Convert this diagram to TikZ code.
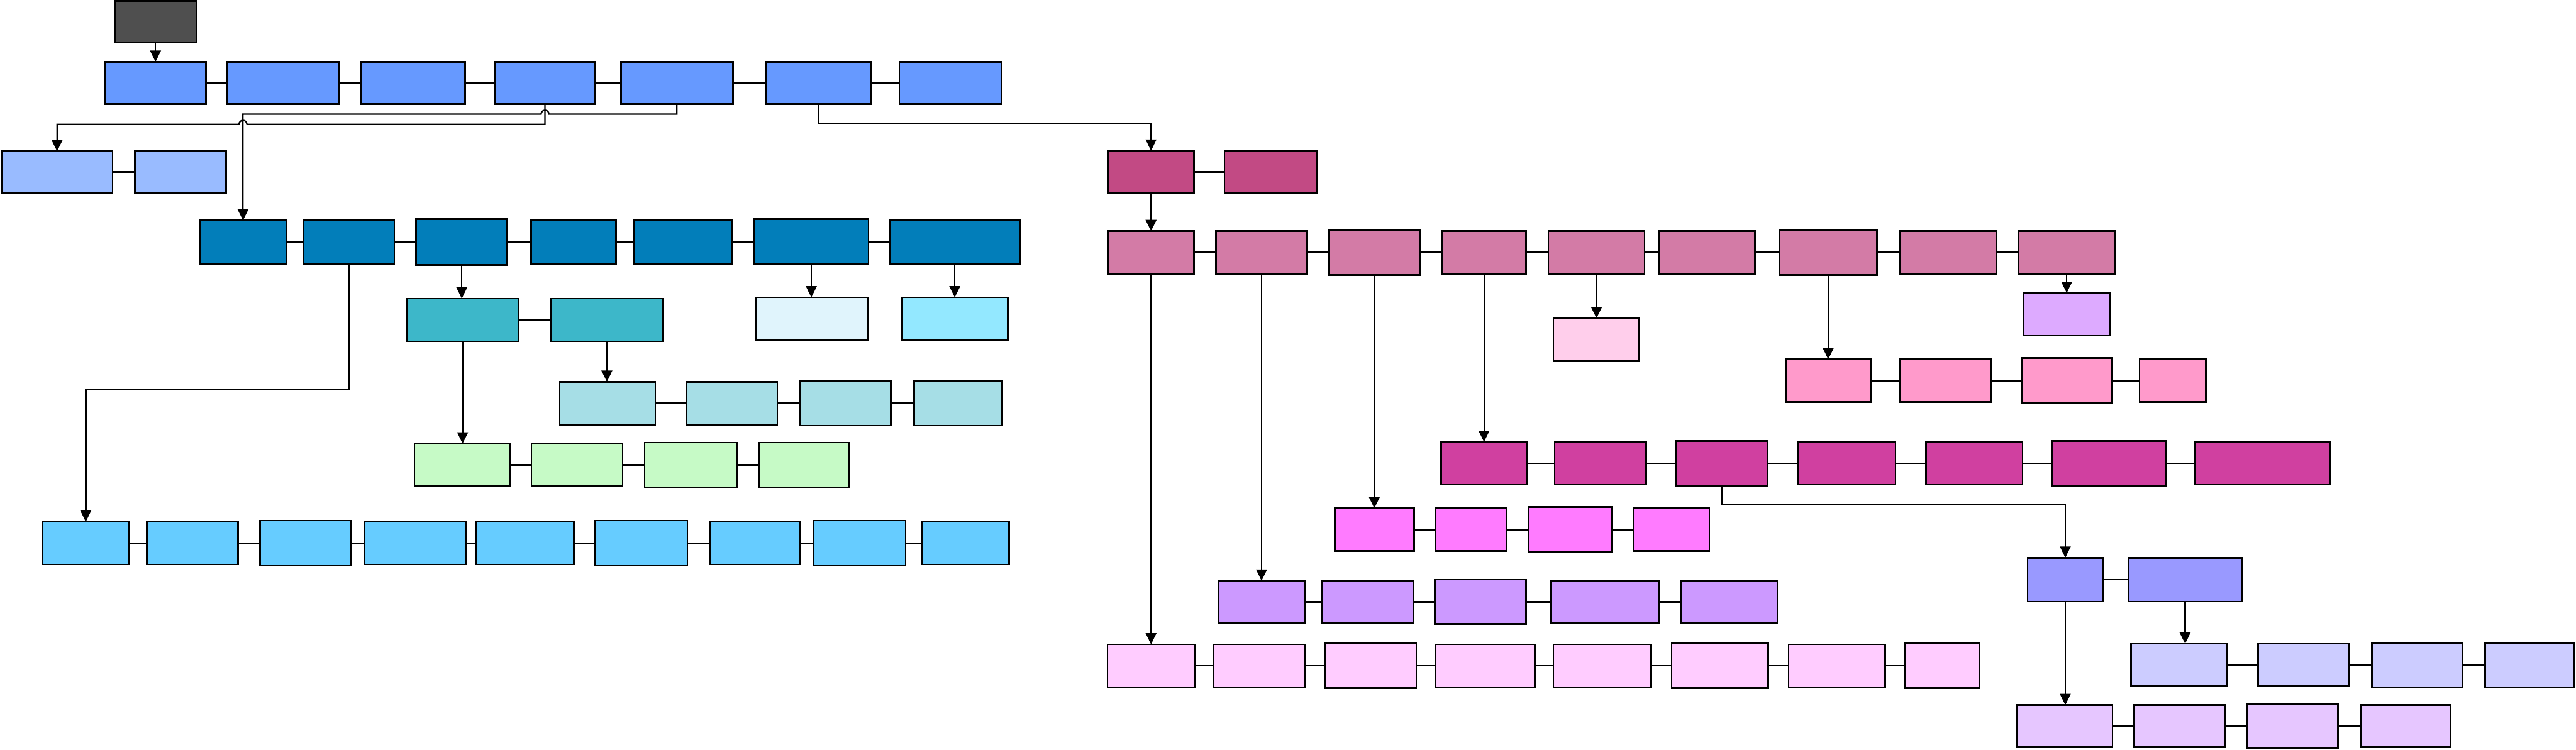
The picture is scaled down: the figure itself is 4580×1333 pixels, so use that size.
\documentclass[tikz,border=0pt]{standalone}
\usetikzlibrary{arrows.meta,calc}
\definecolor{cDark}{HTML}{4F4F4F}
\definecolor{cRowA}{HTML}{6699FF}
\definecolor{cRowB}{HTML}{99BBFF}
\definecolor{cRowC}{HTML}{027EBA}
\definecolor{cTeal}{HTML}{3DB7C9}
\definecolor{cPale}{HTML}{E0F4FC}
\definecolor{cCyan}{HTML}{93E8FF}
\definecolor{cLTeal}{HTML}{A6DEE6}
\definecolor{cGreen}{HTML}{C6FAC6}
\definecolor{cSky}{HTML}{66CCFF}
\definecolor{cDPink}{HTML}{C24A84}
\definecolor{cPink}{HTML}{D37BA6}
\definecolor{cLPink}{HTML}{FFCEEB}
\definecolor{cLilac}{HTML}{DDAAFF}
\definecolor{cRose}{HTML}{FF9ACB}
\definecolor{cMag}{HTML}{D040A0}
\definecolor{cFuch}{HTML}{FF7BFF}
\definecolor{cViol}{HTML}{CC99FF}
\definecolor{cBlush}{HTML}{FFCCFF}
\definecolor{cBV}{HTML}{9999FF}
\definecolor{cPeri}{HTML}{CCCCFF}
\definecolor{cLav}{HTML}{E6C6FF}
\tikzset{
  box/.style={draw=black, line width=0.03cm, inner sep=0pt, outer sep=0pt},
  link/.style={draw=black, line width=0.03cm},
  arr/.style={draw=black, line width=0.025cm, -{Triangle[length=0.2cm,width=0.19cm]}}
}
\newcommand\mybox[6]{\node[box, fill=#6, minimum width={(#3-#2)*0.01cm}, minimum height={(#5-#4)*0.01cm}] (#1) at ({(#2+#3)/2},{(#4+#5)/2}) {};}
\begin{document}
\begin{tikzpicture}[x=0.01cm, y=-0.01cm]
\useasboundingbox (0,0) rectangle (4580,1333);
% top
\mybox{d0}{204}{349}{2}{76}{cDark}
% row 1
\mybox{a1}{187}{366}{110}{185}{cRowA}
\mybox{a2}{404}{602}{110}{185}{cRowA}
\mybox{a3}{641}{827}{110}{185}{cRowA}
\mybox{a4}{880}{1058}{110}{185}{cRowA}
\mybox{a5}{1104}{1303}{110}{185}{cRowA}
\mybox{a6}{1362}{1548}{110}{185}{cRowA}
\mybox{a7}{1599}{1781}{110}{185}{cRowA}
% light blue
\mybox{b1}{3}{200}{269}{343}{cRowB}
\mybox{b2}{240}{402}{269}{343}{cRowB}
% dark blue
\mybox{c1}{355}{509}{392}{469}{cRowC}
\mybox{c2}{539}{701}{392}{469}{cRowC}
\mybox{c3}{740}{902}{390}{471}{cRowC}
\mybox{c4}{944}{1095}{392}{469}{cRowC}
\mybox{c5}{1128}{1302}{392}{469}{cRowC}
\mybox{c6}{1341}{1544}{390}{470}{cRowC}
\mybox{c7}{1582}{1813}{392}{469}{cRowC}
% teal
\mybox{t1}{723}{922}{531}{607}{cTeal}
\mybox{t2}{979}{1179}{531}{607}{cTeal}
\mybox{l1}{1344}{1543}{529}{605}{cPale}
\mybox{l2}{1604}{1792}{529}{605}{cCyan}
% light teal
\mybox{lt1}{995}{1165}{679}{755}{cLTeal}
\mybox{lt2}{1220}{1382}{679}{755}{cLTeal}
\mybox{lt3}{1422}{1584}{677}{757}{cLTeal}
\mybox{lt4}{1625}{1782}{677}{757}{cLTeal}
% green
\mybox{g1}{737}{907}{789}{865}{cGreen}
\mybox{g2}{945}{1107}{789}{865}{cGreen}
\mybox{g3}{1146}{1310}{787}{867}{cGreen}
\mybox{g4}{1349}{1509}{787}{867}{cGreen}
% sky
\mybox{s1}{76}{229}{928}{1004}{cSky}
\mybox{s2}{261}{423}{928}{1004}{cSky}
\mybox{s3}{462}{624}{926}{1006}{cSky}
\mybox{s4}{648}{828}{928}{1004}{cSky}
\mybox{s5}{846}{1020}{928}{1004}{cSky}
\mybox{s6}{1058}{1222}{926}{1006}{cSky}
\mybox{s7}{1263}{1422}{928}{1004}{cSky}
\mybox{s8}{1446}{1610}{926}{1006}{cSky}
\mybox{s9}{1639}{1794}{928}{1004}{cSky}
% dark pink
\mybox{dp1}{1970}{2123}{268}{343}{cDPink}
\mybox{dp2}{2177}{2341}{268}{343}{cDPink}
% pink row
\mybox{p1}{1970}{2123}{411}{487}{cPink}
\mybox{p2}{2162}{2324}{411}{487}{cPink}
\mybox{p3}{2363}{2524}{409}{489}{cPink}
\mybox{p4}{2564}{2713}{411}{487}{cPink}
\mybox{p5}{2753}{2924}{411}{487}{cPink}
\mybox{p6}{2949}{3120}{411}{487}{cPink}
\mybox{p7}{3164}{3337}{409}{489}{cPink}
\mybox{p8}{3378}{3549}{411}{487}{cPink}
\mybox{p9}{3588}{3761}{411}{487}{cPink}
\mybox{lp}{2762}{2914}{566}{642}{cLPink}
\mybox{li}{3597}{3751}{521}{597}{cLilac}
% rose
\mybox{pk1}{3175}{3327}{639}{715}{cRose}
\mybox{pk2}{3378}{3540}{639}{715}{cRose}
\mybox{pk3}{3594}{3755}{637}{717}{cRose}
\mybox{pk4}{3804}{3922}{639}{715}{cRose}
% magenta
\mybox{mg1}{2562}{2714}{786}{862}{cMag}
\mybox{mg2}{2764}{2927}{786}{862}{cMag}
\mybox{mg3}{2980}{3142}{784}{864}{cMag}
\mybox{mg4}{3196}{3370}{786}{862}{cMag}
\mybox{mg5}{3424}{3596}{786}{862}{cMag}
\mybox{mg6}{3649}{3850}{784}{864}{cMag}
\mybox{mg7}{3902}{4142}{786}{862}{cMag}
% fuchsia
\mybox{m1}{2373}{2514}{904}{980}{cFuch}
\mybox{m2}{2552}{2679}{904}{980}{cFuch}
\mybox{m3}{2718}{2865}{902}{982}{cFuch}
\mybox{m4}{2904}{3039}{904}{980}{cFuch}
% violet
\mybox{v1}{2166}{2320}{1033}{1108}{cViol}
\mybox{v2}{2350}{2513}{1033}{1108}{cViol}
\mybox{v3}{2551}{2713}{1031}{1110}{cViol}
\mybox{v4}{2757}{2950}{1033}{1108}{cViol}
\mybox{v5}{2988}{3160}{1033}{1108}{cViol}
% blush
\mybox{q1}{1969}{2124}{1146}{1222}{cBlush}
\mybox{q2}{2157}{2321}{1146}{1222}{cBlush}
\mybox{q3}{2356}{2518}{1144}{1224}{cBlush}
\mybox{q4}{2552}{2729}{1146}{1222}{cBlush}
\mybox{q5}{2762}{2936}{1146}{1222}{cBlush}
\mybox{q6}{2972}{3144}{1144}{1224}{cBlush}
\mybox{q7}{3180}{3352}{1146}{1222}{cBlush}
\mybox{q8}{3387}{3519}{1144}{1224}{cBlush}
% blue violet
\mybox{bv1}{3605}{3739}{992}{1070}{cBV}
\mybox{bv2}{3784}{3986}{992}{1070}{cBV}
% peri
\mybox{cc1}{3789}{3959}{1145}{1220}{cPeri}
\mybox{cc2}{4015}{4177}{1145}{1220}{cPeri}
\mybox{cc3}{4217}{4378}{1143}{1222}{cPeri}
\mybox{cc4}{4418}{4577}{1143}{1222}{cPeri}
% lavender
\mybox{lv1}{3585}{3756}{1254}{1329}{cLav}
\mybox{lv2}{3794}{3956}{1254}{1329}{cLav}
\mybox{lv3}{3996}{4157}{1252}{1331}{cLav}
\mybox{lv4}{4198}{4357}{1254}{1329}{cLav}

% horizontal links
\foreach \u/\v in {a1/a2,a2/a3,a3/a4,a4/a5,a5/a6,a6/a7,b1/b2,
  c1/c2,c2/c3,c3/c4,c4/c5,c5/c6,c6/c7,t1/t2,
  lt1/lt2,lt2/lt3,lt3/lt4,g1/g2,g2/g3,g3/g4,
  s1/s2,s2/s3,s3/s4,s4/s5,s5/s6,s6/s7,s7/s8,s8/s9,
  dp1/dp2,p1/p2,p2/p3,p3/p4,p4/p5,p5/p6,p6/p7,p7/p8,p8/p9,
  pk1/pk2,pk2/pk3,pk3/pk4,
  mg1/mg2,mg2/mg3,mg3/mg4,mg4/mg5,mg5/mg6,mg6/mg7,
  m1/m2,m2/m3,m3/m4,v1/v2,v2/v3,v3/v4,v4/v5,
  q1/q2,q2/q3,q3/q4,q4/q5,q5/q6,q6/q7,q7/q8,
  bv1/bv2,cc1/cc2,cc2/cc3,cc3/cc4,lv1/lv2,lv2/lv3,lv3/lv4}
  {\draw[link] (\u.east) -- (\v.west);}

% straight arrows
\foreach \u/\v in {d0/a1,c3/t1,c6/l1,c7/l2,t1/g1,t2/lt1,dp1/p1,
  p1/q1,p2/v1,p3/m1,p4/mg1,p5/lp,p7/pk1,p9/li,bv1/lv1,bv2/cc1}
  {\draw[arr] (\u.south) -- (\u.south |- \v.north);}

% elbow arrows with hops
\draw[arr] (a4.south) -- ++(0,36) coordinate (k1)
  -- ($(c1.north |- k1)+(7,0)$) arc[start angle=0,end angle=180,radius=0.07cm]
  -- (b1.north |- k1) -- (b1.north);
\draw[arr] (a5.south) -- ++(0,18) coordinate (k2)
  -- ($(a4.south |- k2)+(7,0)$) arc[start angle=0,end angle=180,radius=0.07cm]
  -- (c1.north |- k2) -- (c1.north);
\draw[arr] (a6.south) -- ++(0,35) -| (dp1.north);
\draw[arr] (c2.south) -- ++(0,224) -| (s1.north);
\draw[arr] (mg3.south) -- ++(0,34) -| (bv1.north);
\end{tikzpicture}
\end{document}
